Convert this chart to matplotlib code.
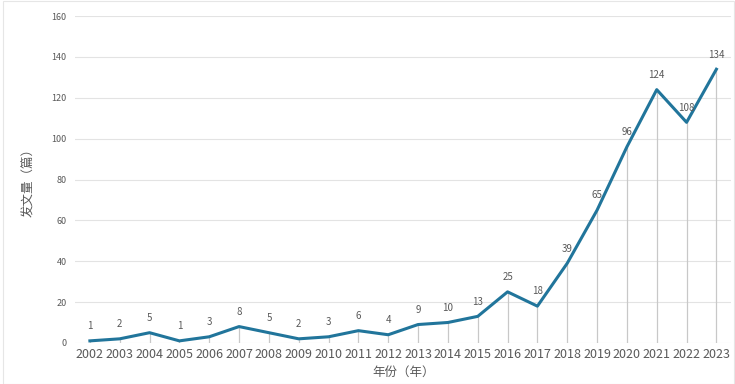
import matplotlib
matplotlib.use("Agg")
import matplotlib.pyplot as plt
from matplotlib.patches import Rectangle

plt.rcParams['font.family'] = ['Noto Sans CJK SC', 'DejaVu Sans']

years = [str(y) for y in range(2002, 2024)]
counts = [1, 2, 5, 1, 3, 8, 5, 2, 3, 6, 4, 9, 10, 13, 25, 18, 39, 65, 96, 124, 108, 134]
y_ticks = [0, 20, 40, 60, 80, 100, 120, 140, 160]

line_color = '#21759B'
text_color = '#595959'

fig = plt.figure(figsize=(7.35, 3.84), dpi=100)
ax = fig.add_axes([0.102, 0.107, 0.893, 0.851])

x = list(range(len(years)))

# drop lines from each point down to the axis
ax.vlines(x, 0, counts, color='#C8C8C8', linewidth=0.9, zorder=1)
ax.plot(x, counts, color=line_color, linewidth=2.2, solid_joinstyle='round', zorder=3)

for xi, v in zip(x, counts):
    ax.annotate(str(v), (xi, v), xytext=(0, 7), textcoords='offset points',
                ha='center', va='bottom', fontsize=7, color=text_color, zorder=4)

ax.set_xlim(-0.5, len(years) - 0.5)
ax.set_ylim(0, 160)
ax.set_xticks(x)
ax.set_xticklabels(years, fontsize=9, color=text_color)
ax.set_yticks(y_ticks)
ax.set_yticklabels([str(t) for t in y_ticks], fontsize=6.5, color=text_color)
ax.tick_params(axis='both', length=0)
ax.tick_params(axis='y', pad=6)
ax.tick_params(axis='x', pad=4)

ax.grid(axis='y', color='#E3E3E3', linewidth=0.8)
ax.set_axisbelow(True)
for s in ax.spines.values():
    s.set_visible(False)

ax.set_xlabel('年份（年）', fontsize=9, color=text_color, labelpad=3)
ax.set_ylabel('发文量（篇）', fontsize=9, color=text_color, labelpad=12)

# light frame on the left edge of the figure
fig.patches.append(Rectangle((0.004, 0.0), 0.995, 0.998, transform=fig.transFigure,
                             fill=False, edgecolor='#E6E6E6', linewidth=0.8))

fig.savefig('out.png', dpi=100)
